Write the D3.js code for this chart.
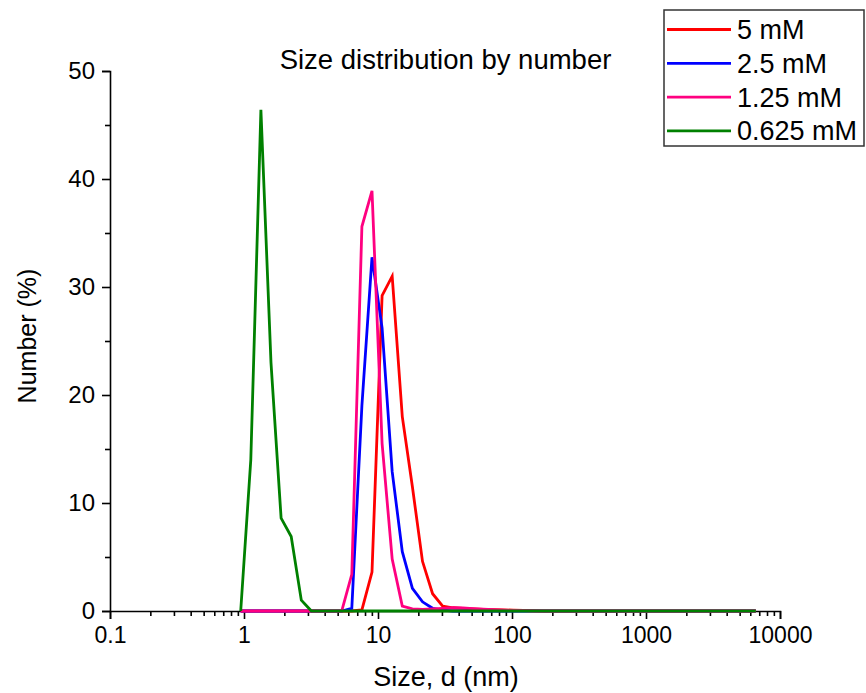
<!DOCTYPE html>
<html>
<head>
<meta charset="utf-8">
<script src="https://cdn.jsdelivr.net/npm/d3@7"></script>
<style>
  html, body { margin: 0; padding: 0; background: #fff; }
  svg { display: block; }
  text { font-family: "Liberation Sans", Arial, sans-serif; fill: #000; }
</style>
</head>
<body>
<svg id="chart" width="866" height="693"></svg>
<script>
// ---- data ----
const sizes = [0.945, 1.124, 1.337, 1.590, 1.892, 2.250, 2.677, 3.184, 3.788, 4.506,
  5.359, 6.375, 7.583, 9.020, 10.73, 12.76, 15.18, 18.06, 21.48, 25.55,
  30.39, 36.15, 43.00, 51.16, 60.85, 72.38, 86.1, 102.4, 121.9, 145.0,
  172.5, 205.1, 244.0, 290.2, 345.3, 410.7, 488.6, 581.2, 691.4, 822.4,
  978.0, 1163, 1384, 1647, 1958, 2329, 2771, 3296, 3920, 4664, 5548, 6600];

const seriesNames = ["5 mM", "2.5 mM", "1.25 mM", "0.625 mM"];
const seriesColors = ["#ff0000", "#0000ff", "#ff0080", "#008000"];

const red5mM = [0,0,0,0,0,0,0,0,0,0, 0,0,0.1,3.6,29.2,31.0,18.0,11.5,4.6,1.6,
  0.45,0.3,0.25,0.2,0.15,0.12,0.1,0.08,0.05,0.03, 0,0,0,0,0,0,0,0,0,0,
  0,0,0,0,0,0,0,0,0,0,0,0];
const blue2_5mM = [0,0,0,0,0,0,0,0,0,0, 0,0.25,19.0,32.75,26.2,12.9,5.5,2.1,0.85,0.25,
  0.08,0,0,0,0,0,0,0,0,0, 0,0,0,0,0,0,0,0,0,0,
  0,0,0,0,0,0,0,0,0,0,0,0];
const pink1_25mM = [0,0,0,0,0,0,0,0,0,0, 0,3.4,35.6,38.9,15.5,4.8,0.45,0.2,0.15,0.2,
  0.25,0.3,0.28,0.22,0.16,0.12,0.08,0.05,0.03,0, 0,0,0,0,0,0,0,0,0,0,
  0,0,0,0,0,0,0,0,0,0,0,0];
const green0_625mM = [0,14.0,46.4,23.0,8.6,6.9,1.0,0,0,0, 0,0,0,0,0,0,0,0,0,0,
  0,0,0,0,0,0,0,0,0,0, 0,0,0,0,0,0,0,0,0,0,
  0,0,0,0,0,0,0,0,0,0,0,0];

const xMajorTicks = [0.1, 1, 10, 100, 1000, 10000];
const xTickLabels = ["0.1", "1", "10", "100", "1000", "10000"];
const yMajorTicks = [0, 10, 20, 30, 40, 50];
const yMinorTicks = [5, 15, 25, 35, 45];

const titleText = "Size distribution by number";
const xTitle = "Size, d (nm)";
const yTitle = "Number (%)";

// ---- layout ----
const svg = d3.select("#chart");
const x = d3.scaleLog().domain([0.1, 10000]).range([110, 780]);
const y = d3.scaleLinear().domain([0, 50]).range([611, 71]);

const xMinorTicks = [];
xMajorTicks.slice(0, -1).forEach(d => { for (let m = 2; m <= 9; m++) xMinorTicks.push(d * m); });

// axes
const xAxisG = svg.append("g").attr("transform", `translate(0,${y(0)})`);
xAxisG.call(d3.axisBottom(x).tickValues(xMajorTicks).tickFormat((d, i) => xTickLabels[i]).tickSizeOuter(0).tickSize(8).tickPadding(8));
xAxisG.append("g").call(d3.axisBottom(x).tickValues(xMinorTicks).tickFormat("").tickSizeOuter(0).tickSize(5))
  .select(".domain").remove();
xAxisG.selectAll(".tick text").style("font-size", "23px");

const yAxisG = svg.append("g").attr("transform", `translate(${x(0.1)},0)`);
yAxisG.call(d3.axisLeft(y).tickValues(yMajorTicks).tickSizeOuter(0).tickSize(8).tickPadding(7));
yAxisG.append("g").call(d3.axisLeft(y).tickValues(yMinorTicks).tickFormat("").tickSizeOuter(0).tickSize(5))
  .select(".domain").remove();
yAxisG.selectAll(".tick text").style("font-size", "24px");

svg.selectAll(".domain").attr("stroke", "#000").attr("stroke-width", 1.6);
svg.selectAll(".tick line").attr("stroke", "#000").attr("stroke-width", 1.6);
svg.selectAll(".tick text").style("font-family", "'Liberation Sans', Arial, sans-serif");

// series lines
const allSeries = [red5mM, blue2_5mM, pink1_25mM, green0_625mM];
const line = d3.line().x(d => x(d[0])).y(d => y(d[1]));
allSeries.forEach((vals, i) => {
  svg.append("path")
    .datum(sizes.map((s, j) => [s, vals[j]]))
    .attr("fill", "none")
    .attr("stroke", seriesColors[i])
    .attr("stroke-width", 2.8)
    .attr("stroke-linejoin", "miter")
    .attr("d", line);
});

// titles
svg.append("text").attr("x", 445.5).attr("y", 69).attr("text-anchor", "middle")
  .style("font-size", "27.5px").text(titleText);
svg.append("text").attr("x", 446).attr("y", 686).attr("text-anchor", "middle")
  .style("font-size", "27px").text(xTitle);
svg.append("text").attr("transform", "translate(36,336) rotate(-90)").attr("text-anchor", "middle")
  .style("font-size", "25px").text(yTitle);

// legend
const lg = svg.append("g");
lg.append("rect").attr("x", 664).attr("y", 10).attr("width", 200).attr("height", 136)
  .attr("fill", "#fff").attr("stroke", "#333").attr("stroke-width", 1.5);
seriesNames.forEach((name, i) => {
  const cy = 29.5 + i * 33.8;
  lg.append("line").attr("x1", 667).attr("x2", 731).attr("y1", cy).attr("y2", cy)
    .attr("stroke", seriesColors[i]).attr("stroke-width", 2.8);
  lg.append("text").attr("x", 737).attr("y", cy + 9.5).style("font-size", "27px").text(name);
});
</script>
</body>
</html>
